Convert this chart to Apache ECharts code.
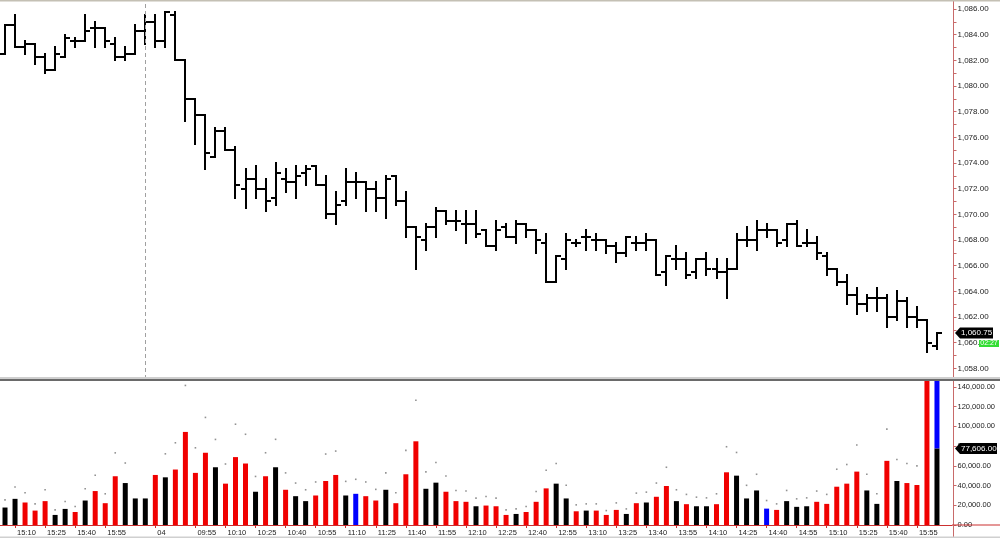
<!DOCTYPE html>
<html><head><meta charset="utf-8">
<script src="https://cdn.jsdelivr.net/npm/echarts@6/dist/echarts.min.js"></script>
<style>html,body{margin:0;padding:0;background:#fff;overflow:hidden}#c{width:1000px;height:538px}</style>
</head><body><div id="c"></div><script>
// ---------- data ----------
const times = [
 '15:05','15:10','15:15','15:20','15:25','15:30','15:35','15:40','15:45','15:50','15:55','16:00','16:05','16:10',
 '09:30','09:35','09:40','09:45','09:50','09:55',
 '10:00','10:05','10:10','10:15','10:20','10:25','10:30','10:35','10:40','10:45','10:50','10:55',
 '11:00','11:05','11:10','11:15','11:20','11:25','11:30','11:35','11:40','11:45','11:50','11:55',
 '12:00','12:05','12:10','12:15','12:20','12:25','12:30','12:35','12:40','12:45','12:50','12:55',
 '13:00','13:05','13:10','13:15','13:20','13:25','13:30','13:35','13:40','13:45','13:50','13:55',
 '14:00','14:05','14:10','14:15','14:20','14:25','14:30','14:35','14:40','14:45','14:50','14:55',
 '15:00','15:05','15:10','15:15','15:20','15:25','15:30','15:35','15:40','15:45','15:50','15:55',
 '16:00','16:05','16:10'
];
const opens = [
 1082.50,1084.75,1083.00,1083.25,1082.25,1081.25,1082.25,1083.50,1083.50,1084.50,1084.50,1083.25,1082.25,1082.50,
 1084.25,1085.00,1083.50,1085.50,1082.00,1079.00,1077.75,1074.50,1076.50,1075.00,1072.00,1072.75,1072.00,1071.25,
 1072.75,1072.50,1073.25,1073.75,1072.25,1070.00,1071.00,1072.50,1072.50,1072.00,1071.25,1073.00,1071.00,1069.00,
 1068.00,1069.00,1070.25,1069.50,1069.25,1069.25,1068.75,1067.50,1069.00,1068.25,1069.25,1068.75,1067.75,1064.75,
 1066.50,1067.75,1068.25,1068.00,1068.00,1067.50,1067.00,1067.75,1067.75,1068.00,1065.50,1066.50,1066.50,1065.50,
 1066.50,1065.75,1065.50,1065.75,1068.00,1068.00,1068.75,1068.75,1068.00,1069.25,1067.75,1067.75,1066.75,1065.75,
 1064.75,1063.75,1063.00,1063.50,1063.50,1062.00,1063.25,1062.00,1061.75,1059.75
];
const highs = [
 1084.75,1085.50,1083.50,1083.25,1082.50,1083.00,1084.00,1083.75,1085.50,1085.00,1084.50,1083.75,1083.00,1084.75,
 1085.50,1085.50,1085.75,1085.75,1082.00,1079.00,1077.75,1076.75,1076.75,1075.25,1073.50,1073.75,1072.75,1074.00,
 1073.50,1073.75,1073.75,1073.75,1073.00,1071.75,1073.50,1073.25,1072.50,1072.50,1073.00,1073.00,1071.75,1069.00,
 1069.25,1070.50,1070.25,1070.25,1070.25,1070.25,1068.75,1069.50,1069.25,1069.50,1069.25,1068.75,1068.50,1066.75,
 1068.50,1068.00,1068.75,1068.50,1068.00,1067.75,1068.25,1068.25,1068.50,1068.00,1066.75,1067.50,1067.00,1066.50,
 1067.00,1066.50,1066.50,1068.50,1069.00,1069.50,1069.25,1068.75,1069.25,1069.50,1068.75,1068.25,1067.00,1065.75,
 1065.25,1064.25,1063.75,1064.25,1063.75,1064.00,1063.50,1062.75,1061.75,1060.75
];
const lows = [
 1082.50,1083.00,1082.50,1081.75,1081.00,1081.25,1082.25,1083.00,1083.50,1083.00,1083.00,1082.00,1082.00,1082.50,
 1083.25,1083.00,1083.00,1082.00,1077.25,1075.50,1073.50,1074.50,1075.00,1071.25,1070.50,1071.25,1070.25,1070.75,
 1071.75,1071.25,1072.25,1072.25,1069.75,1069.25,1070.75,1071.25,1070.25,1070.25,1069.75,1070.75,1068.25,1065.75,
 1067.25,1068.25,1069.25,1068.75,1067.75,1068.25,1067.50,1067.25,1068.25,1067.75,1068.25,1067.00,1064.75,1064.75,
 1065.75,1067.50,1067.25,1067.25,1067.00,1066.25,1066.75,1067.25,1067.25,1065.25,1064.50,1065.75,1065.00,1065.00,
 1065.25,1065.00,1063.50,1065.75,1067.50,1067.25,1068.25,1067.50,1067.50,1067.50,1067.50,1066.50,1065.25,1064.50,
 1063.00,1062.25,1062.50,1062.50,1061.25,1061.75,1061.25,1061.25,1059.25,1059.50
];
const closes = [
 1084.75,1083.00,1083.25,1082.25,1081.25,1082.50,1083.75,1083.50,1084.25,1084.50,1083.50,1082.25,1082.50,1084.25,
 1085.00,1083.50,1085.75,1082.00,1079.00,1077.75,1074.75,1076.50,1075.00,1072.25,1072.75,1072.00,1071.00,1073.25,
 1072.50,1073.00,1073.50,1072.25,1070.00,1070.75,1072.50,1072.50,1072.00,1071.25,1072.75,1071.00,1069.00,1068.25,
 1069.00,1070.25,1069.50,1069.50,1069.25,1068.50,1067.50,1068.75,1068.25,1069.25,1068.75,1068.00,1064.75,1066.75,
 1068.00,1067.75,1068.25,1068.00,1067.50,1067.00,1068.25,1067.75,1068.00,1065.25,1066.75,1066.50,1065.25,1066.50,
 1065.75,1065.50,1065.75,1068.00,1068.00,1068.75,1068.75,1067.75,1069.25,1067.50,1067.75,1067.00,1065.75,1064.75,
 1063.75,1063.00,1063.50,1063.50,1062.00,1063.25,1062.00,1061.75,1060.00,1060.75
];
const volumes = [
 17700,26500,22800,14600,24200,10200,16300,13200,24800,34400,22100,49400,42500,26900,
 26900,50700,48300,56200,94300,52800,73200,58500,41900,68800,62300,33700,49400,58500,
 35700,29200,24200,29900,44600,50700,29900,31600,29200,24800,35700,22100,51400,84800,
 36700,42900,33700,24200,23500,19000,19700,19000,10200,11200,13200,23500,37100,41900,
 26900,13900,14600,14600,10200,15300,11200,22100,22800,28600,39500,24200,21100,19000,
 19000,21100,53400,50000,26900,35000,16600,15300,24200,18400,19000,23500,21400,38800,
 41900,54100,35000,21400,65000,44600,42500,40500,160000,77606
];
// volume bar direction as coloured on the reference: dn = red, up = black, eq = blue
const volumeDir = [
 'up','up','dn','dn','dn','up','up','dn','up','dn','dn','dn','up','up',
 'up','dn','up','dn','dn','dn','dn','up','dn','dn','dn','up','dn','up',
 'dn','up','up','dn','dn','dn','up','eq','dn','dn','up','dn','dn','dn',
 'up','up','dn','dn','dn','up','dn','dn','dn','up','dn','dn','dn','up',
 'up','dn','up','dn','dn','dn','up','dn','up','dn','dn','up','dn','up',
 'up','dn','dn','up','up','up','eq','dn','up','up','up','dn','dn','dn',
 'dn','dn','up','up','dn','up','dn','dn','dn','up'
];
// extra (projected) volume drawn in blue above the current bar
const projectedVolume = [
 null,null,null,null,null,null,null,null,null,null,null,null,null,null,
 null,null,null,null,null,null,null,null,null,null,null,null,null,null,
 null,null,null,null,null,null,null,null,null,null,null,null,null,null,
 null,null,null,null,null,null,null,null,null,null,null,null,null,null,
 null,null,null,null,null,null,null,null,null,null,null,null,null,null,
 null,null,null,null,null,null,null,null,null,null,null,null,null,null,
 null,null,null,null,null,null,null,null,null,90000
];
// small grey dots above the volume bars
const avgVolume = [
 25500,38500,32700,21400,35700,15300,23800,18700,36700,50400,31600,73100,62800,null,
 null,null,72100,83300,141400,78200,109000,86700,61800,102100,91900,49200,73200,86800,
 52800,42500,35700,43600,71900,74900,44200,46300,43600,36100,52800,32700,75600,126400,
 53800,63300,49700,35000,34400,27200,28900,27200,15300,16300,18700,34000,55500,62300,
 40200,20400,21400,21400,14600,22400,16300,32300,33300,42500,58500,35700,31000,28200,
 27500,31600,79300,73500,40200,51400,24800,21400,35000,26500,27500,34400,31000,56500,
 61300,81000,51400,31600,97100,66400,62300,59900,null,null
];
const tickTimes = ['15:10','15:25','15:40','15:55','09:55','10:10','10:25','10:40','10:55','11:10','11:25',
 '11:40','11:55','12:10','12:25','12:40','12:55','13:10','13:25','13:40','13:55','14:10','14:25','14:40','14:55'];
const dateLabels = {'09:35': '04'};
const sessionStart = '09:30';
const priceLabels = [1058,1060,1062,1064,1066,1068,1070,1072,1074,1076,1078,1080,1082,1084,1086];
const priceTicks = [1058,1059,1060,1061,1062,1063,1064,1065,1066,1067,1068,1069,1070,1071,1072,1073,
 1074,1075,1076,1077,1078,1079,1080,1081,1082,1083,1084,1085,1086];
const volumeLabels = [0,20000,40000,60000,80000,100000,120000,140000];
const lastPrice = 1060.75;
const lastVolume = 77606;
const barTimer = '02:27';

// ---------- chart ----------
const FONT = '"Liberation Sans", Arial, sans-serif';
const AXIS_RED = '#c86a6a';
const dirColor = {dn: '#f00000', up: '#000000', eq: '#0000ff'};
const fmt2 = v => v.toLocaleString('en-US', {minimumFractionDigits: 2, maximumFractionDigits: 2});
const showTick = v => (v in dateLabels) || tickTimes.includes(v);

const ohlc = opens.map((o, i) => [i, o, highs[i], lows[i], closes[i]]);

function renderOHLC(params, api) {
  const i = api.value(0);
  const pO = api.coord([i, api.value(1)]);
  const yH = Math.round(api.coord([i, api.value(2)])[1]);
  const yL = Math.round(api.coord([i, api.value(3)])[1]);
  const yO = Math.round(pO[1]);
  const yC = Math.round(api.coord([i, api.value(4)])[1]);
  const x = Math.round(pO[0]);
  const st = {stroke: '#000', lineWidth: 2, lineCap: 'butt'};
  return {type: 'group', children: [
    {type: 'line', shape: {x1: x, y1: yH - 1, x2: x, y2: yL + 1}, style: st},
    {type: 'line', shape: {x1: x - 5, y1: yO, x2: x, y2: yO}, style: st},
    {type: 'line', shape: {x1: x, y1: yC, x2: x + 5, y2: yC}, style: st}
  ]};
}

const chart = echarts.init(document.getElementById('c'), null, {renderer: 'canvas'});
chart.setOption({
  animation: false,
  backgroundColor: '#ffffff',
  grid: [
    {left: -1, right: 48, top: 0, height: 379},
    {left: -1, right: 48, top: 381, height: 144}
  ],
  xAxis: [
    {type: 'category', gridIndex: 0, data: times, boundaryGap: true, show: false},
    {type: 'category', gridIndex: 1, data: times, boundaryGap: true,
     axisLine: {show: true, lineStyle: {color: '#cc3030', width: 1}},
     axisTick: {show: true, alignWithLabel: true, length: 3, lineStyle: {color: '#cc3030'},
                interval: (i, v) => showTick(v)},
     axisLabel: {show: true, interval: (i, v) => showTick(v), align: 'left', margin: 4,
                 padding: [0, 0, 0, 2], fontSize: 7.5, fontFamily: FONT, color: '#222',
                 formatter: v => dateLabels[v] || v},
     splitLine: {show: false}}
  ],
  yAxis: [
    {type: 'value', gridIndex: 0, position: 'right', offset: 1.5, min: 1057.166, max: 1086.70, scale: true,
     axisLine: {show: true, lineStyle: {color: AXIS_RED, width: 1}},
     axisTick: {show: true, length: 3, customValues: priceTicks, lineStyle: {color: AXIS_RED}},
     axisLabel: {show: true, customValues: priceLabels, formatter: v => fmt2(v), margin: 4,
                 fontSize: 8, fontFamily: FONT, color: '#222'},
     splitLine: {show: false}},
    {type: 'value', gridIndex: 1, position: 'right', offset: 1.5, min: 0, max: 145900,
     axisLine: {show: true, lineStyle: {color: AXIS_RED, width: 1}},
     axisTick: {show: true, length: 3, customValues: volumeLabels, lineStyle: {color: AXIS_RED}},
     axisLabel: {show: true, customValues: volumeLabels, formatter: v => fmt2(v), margin: 4,
                 fontSize: 7.5, fontFamily: FONT, color: '#222'},
     splitLine: {show: false}}
  ],
  series: [
    {type: 'custom', name: 'Price', xAxisIndex: 0, yAxisIndex: 0, data: ohlc,
     renderItem: renderOHLC, encode: {x: 0, y: [1, 2, 3, 4]}, silent: true,
     markLine: {silent: true, symbol: 'none', label: {show: false},
                lineStyle: {color: '#a0a0a0', type: [4, 3], width: 1},
                data: [{xAxis: times.indexOf(sessionStart)}]}},
    {type: 'bar', name: 'Volume', xAxisIndex: 1, yAxisIndex: 1, stack: 'vol', barWidth: 5, clip: true,
     data: volumes.map((v, i) => ({value: v, itemStyle: {color: dirColor[volumeDir[i]]}})), silent: true},
    {type: 'bar', name: 'Projected', xAxisIndex: 1, yAxisIndex: 1, stack: 'vol', barWidth: 5, clip: true,
     data: projectedVolume, itemStyle: {color: '#0000ff'}, silent: true},
    {type: 'scatter', name: 'Avg', xAxisIndex: 1, yAxisIndex: 1, data: avgVolume,
     symbol: 'rect', symbolSize: 1.6, itemStyle: {color: '#777'}, silent: true}
  ]
});

// tags on the right axis, placed through the axis scales
const yp = chart.convertToPixel({yAxisIndex: 0}, lastPrice);
const yv = chart.convertToPixel({yAxisIndex: 1}, lastVolume);
function tag(y, text, right) {
  return [
    {type: 'polygon', z: 100, shape: {points: [[955, y], [960, y - 5.5], [right, y - 5.5], [right, y + 5.5], [960, y + 5.5]]},
     style: {fill: '#000'}},
    {type: 'text', z: 101, x: 961, y: y, style: {text: text, fill: '#fff', font: '8px ' + FONT, verticalAlign: 'middle', align: 'left'}}
  ];
}
chart.setOption({graphic: [
  {type: 'rect', z: 90, shape: {x: 0, y: 0, width: 1000, height: 1.5}, style: {fill: '#c4c0b4'}},
  {type: 'rect', z: 90, shape: {x: 0, y: 377, width: 1000, height: 2}, style: {fill: '#cfcfcf'}},
  {type: 'rect', z: 90, shape: {x: 0, y: 379, width: 1000, height: 2}, style: {fill: '#6a6a6a'}},
  {type: 'rect', z: 90, shape: {x: 952, y: 524.5, width: 48, height: 1}, style: {fill: '#cc3030'}},
  {type: 'rect', z: 90, shape: {x: 953, y: 525, width: 1, height: 13}, style: {fill: AXIS_RED}},
  {type: 'rect', z: 90, shape: {x: 0, y: 536.5, width: 1000, height: 1.5}, style: {fill: '#d0d0d0'}},
  ...tag(yp, fmt2(lastPrice), 993),
  {type: 'rect', z: 102, shape: {x: 979, y: yp + 7, width: 20, height: 7}, style: {fill: '#33dd33'}},
  {type: 'text', z: 103, x: 989, y: yp + 10.5, style: {text: barTimer, fill: '#fff', font: '7px ' + FONT, verticalAlign: 'middle', align: 'center'}},
  ...tag(yv, fmt2(lastVolume), 997)
]});
</script></body></html>
